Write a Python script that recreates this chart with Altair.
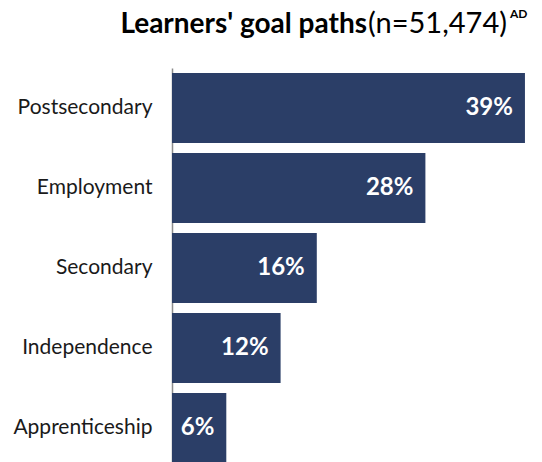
import altair as alt
import pandas as pd

categories = ["Postsecondary", "Employment", "Secondary", "Independence", "Apprenticeship"]
values = [39, 28, 16, 12, 6]
labels = ["39%", "28%", "16%", "12%", "6%"]

title_main = ["Learners' goal paths"]
title_n = ["(n=51,474)"]
title_sup = ["AD"]

FONT = "Lato"
BAR = "#2b3e67"

df = pd.DataFrame({"cat": categories, "val": values, "lab": labels})

y_enc = alt.Y("cat:N", sort=categories, title=None,
              scale=alt.Scale(paddingInner=0.125, paddingOuter=0.0625),
              axis=alt.Axis(labelFont=FONT, labelFontSize=21, labelColor="#1a1a1a",
                            labelPadding=20, ticks=False, domainColor="#8c8c8c",
                            domainWidth=1.5, grid=False, labelLimit=300))
x_enc = alt.X("val:Q", scale=alt.Scale(domain=[0, 39.5]), axis=None)

bars = alt.Chart(df).mark_bar(color=BAR).encode(y=y_enc, x=x_enc)
text = alt.Chart(df).mark_text(align="right", dx=-12, color="white", font=FONT,
                               fontSize=24, fontWeight="bold").encode(
    y=alt.Y("cat:N", sort=categories), x="val:Q", text="lab:N")

t1 = alt.Chart(pd.DataFrame({"t": title_main})).mark_text(
    align="right", baseline="alphabetic", font=FONT, fontSize=28, fontWeight="bold",
    color="black").encode(x=alt.value(195), y=alt.value(-35), text="t:N")
t2 = alt.Chart(pd.DataFrame({"t": title_n})).mark_text(
    align="left", baseline="alphabetic", font=FONT, fontSize=29, fontWeight="normal",
    color="black").encode(x=alt.value(196), y=alt.value(-35), text="t:N")
t3 = alt.Chart(pd.DataFrame({"t": title_sup})).mark_text(
    align="left", baseline="alphabetic", font=FONT, fontSize=12, fontWeight="bold",
    color="black").encode(x=alt.value(338), y=alt.value(-50), text="t:N")

chart = alt.layer(bars, text, t1, t2, t3).properties(
    width=362, height=400,
    autosize=alt.AutoSizeParams(type="none"),
    padding={"left": 164, "top": 60, "right": 0, "bottom": 0}
).configure_view(stroke=None)

chart.save("out.html", embed_options={"renderer": "svg", "actions": False})
